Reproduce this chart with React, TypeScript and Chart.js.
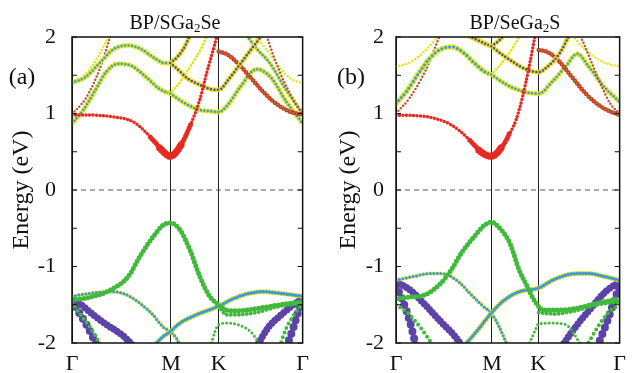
import { useEffect, useRef } from "react";
import { Chart, registerables } from "chart.js";
Chart.register(...registerables);

type P = [number, number];

const K_TICKS = [0, 0.429, 0.636, 1];
const K_LABELS = ["Γ", "M", "K", "Γ"];
const E_MIN = -2;
const E_MAX = 2;

// ---------- Panel (a) BP/SGa2Se ----------
const A_RED1: P[] = [[0, 0.98], [0.08, 0.98], [0.165, 0.96], [0.266, 0.89], [0.338, 0.7], [0.395, 0.5], [0.426, 0.44], [0.468, 0.57], [0.511, 0.83], [0.554, 1.18], [0.583, 1.52], [0.612, 1.83], [0.632, 2.05]];
const A_RED1_M1: P[] = [[0.34, 0.69], [0.37, 0.59], [0.395, 0.5], [0.426, 0.44], [0.468, 0.57], [0.49, 0.69], [0.515, 0.86]];
const A_RED1_M2: P[] = [[0.38, 0.55], [0.4, 0.49], [0.426, 0.44], [0.45, 0.49], [0.475, 0.6]];
const A_BRN1: P[] = [[0, 0.99], [0.06, 1.2], [0.12, 1.58], [0.17, 2.05]];
const A_YEL1: P[] = [[0, 1.4], [0.06, 1.52], [0.12, 1.78], [0.165, 2.05]];
const A_YC1: P[] = [[0, 0.87], [0.05, 1.05], [0.1, 1.3], [0.15, 1.55], [0.2, 1.65], [0.26, 1.62], [0.32, 1.48], [0.38, 1.32], [0.426, 1.26]];
const A_YC2: P[] = [[0, 1.4], [0.06, 1.48], [0.12, 1.66], [0.18, 1.84], [0.244, 1.89], [0.3, 1.84], [0.36, 1.72], [0.4, 1.66], [0.426, 1.66]];
const A_PUR1: P[] = [[0.426, 1.66], [0.468, 1.55], [0.5, 1.46], [0.55, 1.38], [0.6, 1.32], [0.636, 1.31], [0.68, 1.45], [0.73, 1.65], [0.78, 1.85], [0.83, 2.05]];
const A_PUR2: P[] = [[0.426, 1.66], [0.46, 1.75], [0.49, 1.88], [0.515, 2.05]];
const A_YC3: P[] = [[0.426, 1.26], [0.47, 1.17], [0.51, 1.1], [0.55, 1.05], [0.6, 1.03], [0.636, 1.02], [0.68, 1.13], [0.73, 1.35], [0.8, 1.58], [0.86, 1.48], [0.93, 1.15], [1, 0.87]];
const A_YEL2: P[] = [[0.426, 1.26], [0.47, 1.42], [0.52, 1.65], [0.56, 1.85], [0.59, 2.05]];
const A_REDK: P[] = [[0.636, 1.81], [0.68, 1.76], [0.73, 1.62], [0.78, 1.45], [0.83, 1.28], [0.88, 1.14], [0.94, 1.03], [1, 0.98]];
const A_BRN2: P[] = [[0.84, 2.05], [0.88, 1.7], [0.93, 1.35], [0.97, 1.12], [1, 1.0]];
const A_YEL3: P[] = [[0.78, 2.05], [0.84, 1.85], [0.9, 1.6], [0.95, 1.45], [1, 1.4]];
const A_YC4: P[] = [[0.75, 2.05], [0.8, 1.85], [0.86, 1.65], [0.92, 1.35], [1, 1.0]];

const A_GRN1: P[] = [[0, -1.44], [0.08, -1.4], [0.165, -1.31], [0.244, -1.13], [0.294, -0.87], [0.352, -0.61], [0.395, -0.46], [0.426, -0.43], [0.468, -0.52], [0.511, -0.78], [0.554, -1.13], [0.597, -1.39], [0.636, -1.5], [0.67, -1.57], [0.72, -1.58], [0.8, -1.55], [0.9, -1.5], [1, -1.46]];
const A_BLU1: P[] = [[0, -1.39], [0.08, -1.35], [0.165, -1.33], [0.22, -1.35], [0.294, -1.48], [0.35, -1.63], [0.395, -1.79], [0.426, -1.85], [0.455, -1.95], [0.47, -2.05]];
const A_BLU2: P[] = [[0.35, -2.05], [0.39, -1.93], [0.426, -1.85], [0.468, -1.74], [0.525, -1.65], [0.583, -1.58], [0.636, -1.52], [0.7, -1.42], [0.77, -1.35], [0.83, -1.33], [0.9, -1.35], [1, -1.39]];
const A_GRN2: P[] = [[0.636, -1.52], [0.67, -1.63], [0.72, -1.63], [0.8, -1.6], [0.9, -1.52], [1, -1.48]];
const A_GRN3: P[] = [[0.6, -2.05], [0.62, -1.85], [0.636, -1.76], [0.67, -1.74], [0.72, -1.76], [0.78, -1.87], [0.82, -2.05]];
const A_PUR3: P[] = [[0, -1.42], [0.04, -1.5], [0.1, -1.65], [0.16, -1.78], [0.22, -1.9], [0.27, -2.05]];
const A_PUR4: P[] = [[0, -1.45], [0.03, -1.6], [0.07, -1.8], [0.11, -2.05]];
const A_PUR5: P[] = [[0.8, -2.05], [0.85, -1.8], [0.9, -1.65], [0.96, -1.5], [1, -1.42]];
const A_PUR6: P[] = [[0.93, -2.05], [0.96, -1.8], [0.98, -1.6], [1, -1.45]];
const A_GRN4: P[] = [[0, -1.47], [0.03, -1.6], [0.08, -1.8], [0.13, -2.05]];
const A_GRN5: P[] = [[0.9, -2.05], [0.93, -1.8], [0.97, -1.6], [1, -1.48]];

// ---------- Panel (b) BP/SeGa2S ----------
const B_RED1: P[] = [[0, 0.98], [0.133, 0.96], [0.248, 0.85], [0.32, 0.68], [0.378, 0.5], [0.426, 0.44], [0.465, 0.53], [0.494, 0.66], [0.537, 0.92], [0.566, 1.22], [0.595, 1.61], [0.624, 2.05]];
const B_RED1_M1: P[] = [[0.33, 0.65], [0.36, 0.56], [0.39, 0.48], [0.426, 0.44], [0.465, 0.53], [0.494, 0.66], [0.51, 0.76]];
const B_RED1_M2: P[] = [[0.37, 0.52], [0.4, 0.46], [0.426, 0.44], [0.45, 0.48], [0.475, 0.57]];
const B_BRN1: P[] = [[0, 1.0], [0.06, 1.2], [0.13, 1.55], [0.2, 2.05]];
const B_YEL1: P[] = [[0, 1.61], [0.07, 1.68], [0.14, 1.85], [0.2, 2.05]];
const B_YC1: P[] = [[0, 1.13], [0.05, 1.3], [0.1, 1.52], [0.15, 1.72], [0.2, 1.84], [0.25, 1.87], [0.3, 1.8], [0.35, 1.66], [0.4, 1.54], [0.426, 1.51]];
const B_YC2: P[] = [[0.3, 2.05], [0.35, 1.98], [0.4, 1.91], [0.426, 1.88]];
const B_PUR1: P[] = [[0.426, 1.88], [0.47, 1.78], [0.52, 1.68], [0.58, 1.58], [0.638, 1.54], [0.68, 1.62], [0.73, 1.78], [0.78, 2.05]];
const B_PUR2: P[] = [[0.426, 1.88], [0.46, 1.95], [0.49, 2.05]];
const B_YC3: P[] = [[0.426, 1.51], [0.47, 1.42], [0.52, 1.34], [0.58, 1.28], [0.638, 1.26], [0.7, 1.42], [0.76, 1.62], [0.81, 1.78], [0.86, 1.62], [0.93, 1.35], [1, 1.15]];
const B_YEL2: P[] = [[0.426, 1.51], [0.47, 1.65], [0.52, 1.85], [0.56, 2.05]];
const B_REDK: P[] = [[0.638, 1.83], [0.68, 1.8], [0.73, 1.68], [0.78, 1.5], [0.83, 1.32], [0.88, 1.17], [0.94, 1.05], [1, 0.98]];
const B_BRN2: P[] = [[0.82, 2.05], [0.87, 1.7], [0.92, 1.35], [0.96, 1.12], [1, 1.0]];
const B_YEL3: P[] = [[0.78, 2.05], [0.84, 1.85], [0.92, 1.68], [1, 1.61]];

const B_GRN1: P[] = [[0, -1.42], [0.06, -1.4], [0.13, -1.37], [0.2, -1.22], [0.248, -1.04], [0.291, -0.83], [0.349, -0.61], [0.4, -0.45], [0.426, -0.42], [0.47, -0.52], [0.51, -0.7], [0.55, -1.04], [0.59, -1.28], [0.62, -1.45], [0.66, -1.57], [0.72, -1.57], [0.8, -1.55], [0.9, -1.48], [1, -1.42]];
const B_BLU1: P[] = [[0, -1.18], [0.08, -1.13], [0.16, -1.09], [0.22, -1.1], [0.28, -1.2], [0.34, -1.38], [0.39, -1.52], [0.426, -1.61], [0.46, -1.78], [0.5, -2.05]];
const B_BLU2: P[] = [[0.3, -2.05], [0.36, -1.85], [0.426, -1.61], [0.48, -1.45], [0.55, -1.33], [0.638, -1.28], [0.7, -1.18], [0.78, -1.1], [0.86, -1.09], [0.93, -1.13], [1, -1.18]];
const B_GRN2: P[] = [[0.638, -1.6], [0.7, -1.62], [0.8, -1.58], [0.9, -1.5], [1, -1.46]];
const B_GRN3: P[] = [[0.59, -2.05], [0.62, -1.85], [0.638, -1.75], [0.7, -1.74], [0.76, -1.76], [0.8, -1.9], [0.83, -2.05]];
const B_PUR3: P[] = [[0, -1.2], [0.06, -1.3], [0.13, -1.5], [0.2, -1.72], [0.26, -1.9], [0.3, -2.05]];
const B_PUR4: P[] = [[0, -1.25], [0.03, -1.45], [0.06, -1.7], [0.09, -2.05]];
const B_PUR5: P[] = [[0.74, -2.05], [0.8, -1.8], [0.87, -1.55], [0.94, -1.32], [1, -1.2]];
const B_PUR6: P[] = [[0.9, -2.05], [0.94, -1.75], [0.97, -1.5], [1, -1.25]];
const B_GRN4: P[] = [[0, -1.5], [0.05, -1.6], [0.11, -1.8], [0.17, -2.05]];
const B_GRN5: P[] = [[0.85, -2.05], [0.9, -1.8], [0.95, -1.6], [1, -1.5]];

// ---------- styles ----------
const RED = "#e8291f";
const BRN = "#b5533a";
const GRN = "#3fba3a";
const BLU = "#3b9be0";
const PUR = "#5b43a8";
const YEL = "#e4e41c";

type Band = { pts: P[]; color: string; size: number; gap: number; halo?: string; haloSize?: number };

const PANEL_A: Band[] = [
  { pts: A_BRN1, color: BRN, size: 2.5, gap: 3.5 },
  { pts: A_YEL1, color: YEL, size: 2.5, gap: 3.5 },
  { pts: A_YC1, color: BLU, size: 2.5, gap: 3.5, halo: YEL, haloSize: 5 },
  { pts: A_YC2, color: BLU, size: 2.5, gap: 3.5, halo: YEL, haloSize: 5 },
  { pts: A_YEL2, color: YEL, size: 3, gap: 3.5 },
  { pts: A_YC3, color: BLU, size: 2.5, gap: 3.5, halo: YEL, haloSize: 5 },
  { pts: A_YC4, color: BLU, size: 2.5, gap: 3.5, halo: YEL, haloSize: 4.5 },
  { pts: A_YEL3, color: YEL, size: 2.5, gap: 3.5 },
  { pts: A_BRN2, color: BRN, size: 2.5, gap: 3.5 },
  { pts: A_REDK, color: GRN, size: 2, gap: 3.5, halo: RED, haloSize: 4.5 },
  { pts: A_PUR2, color: PUR, size: 2.5, gap: 3.5, halo: YEL, haloSize: 5 },
  { pts: A_PUR1, color: PUR, size: 2.5, gap: 3.5, halo: YEL, haloSize: 5 },
  { pts: A_RED1, color: RED, size: 3.5, gap: 3.5 },
  { pts: A_RED1_M1, color: RED, size: 5, gap: 3 },
  { pts: A_RED1_M2, color: RED, size: 7, gap: 2.5 },
  { pts: A_PUR3, color: PUR, size: 7, gap: 4 },
  { pts: A_PUR4, color: PUR, size: 8, gap: 7 },
  { pts: A_PUR5, color: PUR, size: 7, gap: 4 },
  { pts: A_PUR6, color: PUR, size: 8, gap: 7 },
  { pts: A_GRN4, color: GRN, size: 4, gap: 5 },
  { pts: A_GRN5, color: GRN, size: 4, gap: 5 },
  { pts: A_GRN3, color: GRN, size: 3, gap: 4 },
  { pts: A_GRN2, color: GRN, size: 4, gap: 4 },
  { pts: A_BLU1, color: BLU, size: 3, gap: 3.5, halo: YEL, haloSize: 4 },
  { pts: A_BLU2, color: BLU, size: 3.5, gap: 3, halo: YEL, haloSize: 5 },
  { pts: A_GRN1, color: GRN, size: 5, gap: 4 },
];

const PANEL_B: Band[] = [
  { pts: B_BRN1, color: BRN, size: 2.5, gap: 3.5 },
  { pts: B_YEL1, color: YEL, size: 2.5, gap: 3.5 },
  { pts: B_YC1, color: BLU, size: 3, gap: 4, halo: YEL, haloSize: 5.5 },
  { pts: B_YC2, color: PUR, size: 2.5, gap: 3.5, halo: YEL, haloSize: 5.5 },
  { pts: B_YEL2, color: YEL, size: 3, gap: 3.5 },
  { pts: B_YC3, color: BLU, size: 2.5, gap: 3.5, halo: YEL, haloSize: 5 },
  { pts: B_YEL3, color: YEL, size: 2.5, gap: 3.5 },
  { pts: B_BRN2, color: BRN, size: 2.5, gap: 3.5 },
  { pts: B_REDK, color: GRN, size: 2, gap: 3.5, halo: RED, haloSize: 4.5 },
  { pts: B_PUR2, color: PUR, size: 2.5, gap: 3.5, halo: YEL, haloSize: 5 },
  { pts: B_PUR1, color: PUR, size: 2.5, gap: 3.5, halo: YEL, haloSize: 5 },
  { pts: B_RED1, color: RED, size: 3.5, gap: 3.5 },
  { pts: B_RED1_M1, color: RED, size: 5, gap: 3 },
  { pts: B_RED1_M2, color: RED, size: 7, gap: 2.5 },
  { pts: B_PUR3, color: PUR, size: 7, gap: 4 },
  { pts: B_PUR4, color: PUR, size: 8, gap: 7 },
  { pts: B_PUR5, color: PUR, size: 7, gap: 4 },
  { pts: B_PUR6, color: PUR, size: 8, gap: 7 },
  { pts: B_GRN4, color: GRN, size: 4, gap: 5 },
  { pts: B_GRN5, color: GRN, size: 4, gap: 5 },
  { pts: B_GRN3, color: GRN, size: 3, gap: 4 },
  { pts: B_GRN2, color: GRN, size: 4, gap: 4 },
  { pts: B_BLU1, color: BLU, size: 3, gap: 3.5, halo: YEL, haloSize: 4 },
  { pts: B_BLU2, color: BLU, size: 3.5, gap: 3, halo: YEL, haloSize: 5 },
  { pts: B_GRN1, color: GRN, size: 5, gap: 4 },
];

type PanelCfg = {
  bands: Band[];
  title: [string, string, string];
  label: string;
  axisWidth: number;
  rightPad: number;
  titleX: number;
  labelX: number;
  yTitlePad: number;
  yTickPad: number;
};

const SERIF = "'Liberation Serif', 'Times New Roman', serif";

function lineDs(pts: P[], color: string, width: number, gap: number) {
  return {
    data: pts.map(([x, y]) => ({ x, y })),
    showLine: true,
    borderColor: color,
    backgroundColor: color,
    borderWidth: width,
    borderDash: [0, gap],
    borderCapStyle: "round",
    cubicInterpolationMode: "monotone",
    pointRadius: 0,
    pointHoverRadius: 0,
    clip: 0,
  };
}

function buildDatasets(bands: Band[]) {
  const list: any[] = [];
  for (const b of bands) {
    if (b.halo) list.push(lineDs(b.pts, b.halo, b.haloSize || b.size + 2, b.gap));
    list.push(lineDs(b.pts, b.color, b.size, b.gap));
  }
  return list.reverse();
}

function Panel({ cfg }: { cfg: PanelCfg }) {
  const ref = useRef<HTMLCanvasElement | null>(null);
  useEffect(() => {
    if (!ref.current) return;
    const deco = {
      id: "deco",
      beforeDatasetsDraw(chart: any) {
        const { ctx, chartArea: a, scales } = chart;
        const y0 = scales.y.getPixelForValue(0);
        ctx.save();
        ctx.strokeStyle = "#555";
        ctx.lineWidth = 1;
        ctx.setLineDash([5, 4]);
        ctx.beginPath();
        ctx.moveTo(a.left, y0);
        ctx.lineTo(a.right, y0);
        ctx.stroke();
        ctx.restore();
      },
      afterDraw(chart: any) {
        const { ctx, chartArea: a, scales } = chart;
        ctx.save();
        ctx.strokeStyle = "#111";
        ctx.lineWidth = 1.5;
        ctx.strokeRect(a.left, a.top, a.right - a.left, a.bottom - a.top);
        ctx.lineWidth = 1;
        for (let v = E_MIN; v <= E_MAX + 1e-9; v += 0.5) {
          const y = scales.y.getPixelForValue(v);
          ctx.beginPath();
          ctx.moveTo(a.left, y);
          ctx.lineTo(a.left + 5, y);
          ctx.moveTo(a.right, y);
          ctx.lineTo(a.right - 5, y);
          ctx.stroke();
        }
        const big = `20px ${SERIF}`;
        const small = `13px ${SERIF}`;
        ctx.fillStyle = "#111";
        ctx.textBaseline = "alphabetic";
        ctx.textAlign = "left";
        ctx.font = big;
        const w0 = ctx.measureText(cfg.title[0]).width;
        const w2 = ctx.measureText(cfg.title[2]).width;
        ctx.font = small;
        const w1 = ctx.measureText(cfg.title[1]).width;
        let x = cfg.titleX - (w0 + w1 + w2) / 2;
        const base = 29;
        ctx.font = big;
        ctx.fillText(cfg.title[0], x, base);
        x += w0;
        ctx.font = small;
        ctx.fillText(cfg.title[1], x, base + 3);
        x += w1;
        ctx.font = big;
        ctx.fillText(cfg.title[2], x, base);
        ctx.font = `24px ${SERIF}`;
        ctx.textAlign = "center";
        ctx.textBaseline = "middle";
        ctx.fillText(cfg.label, cfg.labelX, 78);
        ctx.restore();
      },
    };
    const chart = new Chart(ref.current, {
      type: "scatter",
      data: { datasets: buildDatasets(cfg.bands) },
      options: {
        animation: false,
        responsive: false,
        events: [],
        layout: { padding: { top: 37, right: cfg.rightPad, left: 0, bottom: 0 } },
        plugins: { legend: { display: false }, tooltip: { enabled: false }, title: { display: false } },
        scales: {
          x: {
            type: "linear",
            min: 0,
            max: 1,
            afterBuildTicks: (s: any) => {
              s.ticks = K_TICKS.map((v) => ({ value: v }));
            },
            afterFit: (s: any) => {
              s.height = 30;
            },
            ticks: {
              autoSkip: false,
              maxRotation: 0,
              padding: 8,
              color: "#111",
              font: { family: SERIF, size: 22 },
              callback: (_v: any, i: number) => K_LABELS[i],
            },
            grid: { color: "#222", lineWidth: 1, drawTicks: false },
            border: { display: false },
          },
          y: {
            type: "linear",
            min: E_MIN,
            max: E_MAX,
            afterFit: (s: any) => {
              s.width = cfg.axisWidth;
            },
            ticks: {
              stepSize: 0.5,
              padding: cfg.yTickPad,
              color: "#111",
              font: { family: SERIF, size: 22 },
              callback: (v: any) => (Number.isInteger(v) ? String(v) : ""),
            },
            grid: { display: false },
            border: { display: false },
            title: {
              display: true,
              text: "Energy (eV)",
              color: "#111",
              font: { family: SERIF, size: 24 },
              padding: { top: cfg.yTitlePad, bottom: 0 },
            },
          },
        },
      } as any,
      plugins: [deco],
    });
    return () => chart.destroy();
  }, [cfg]);
  return <canvas ref={ref} width={317} height={373} style={{ width: 317, height: 373, display: "block" }} />;
}

const CFG_A: PanelCfg = {
  bands: PANEL_A,
  title: ["BP/SGa", "2", "Se"],
  label: "(a)",
  axisWidth: 72,
  rightPad: 14,
  titleX: 175,
  labelX: 22,
  yTitlePad: 7.6,
  yTickPad: 8,
};
const CFG_B: PanelCfg = {
  bands: PANEL_B,
  title: ["BP/SeGa", "2", "S"],
  label: "(b)",
  axisWidth: 79,
  rightPad: 7,
  titleX: 198,
  labelX: 34,
  yTitlePad: 17.6,
  yTickPad: 4,
};

export default function App() {
  return (
    <div style={{ position: "absolute", left: 0, top: 0, width: 634, height: 373, background: "#fff" }}>
      <div style={{ position: "absolute", left: 0, top: 0 }}>
        <Panel cfg={CFG_A} />
      </div>
      <div style={{ position: "absolute", left: 317, top: 0 }}>
        <Panel cfg={CFG_B} />
      </div>
    </div>
  );
}
